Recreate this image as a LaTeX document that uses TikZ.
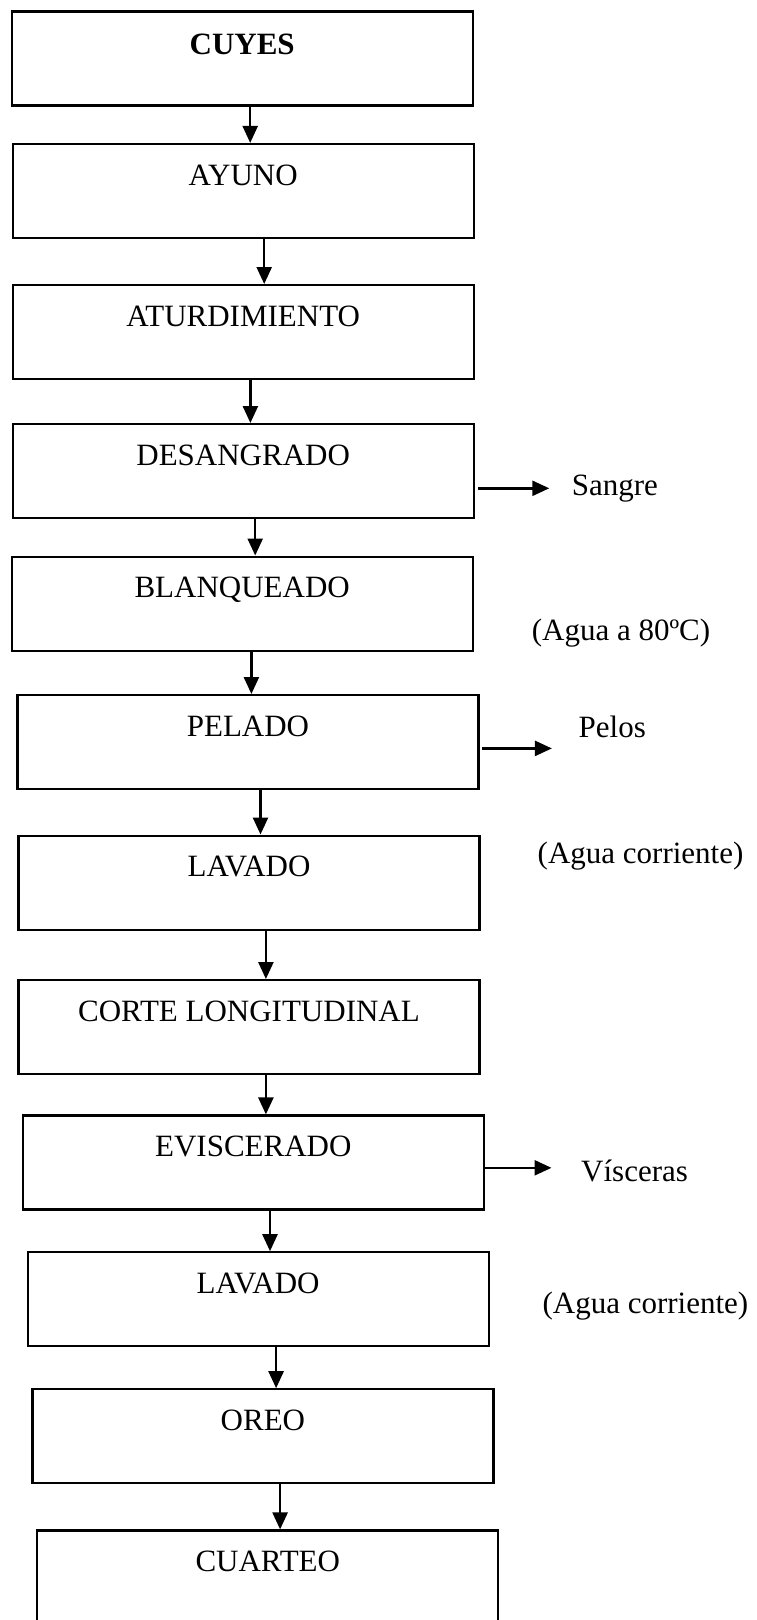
\documentclass[tikz,border=0pt]{standalone}
\usepackage{fontspec}
\setmainfont{Liberation Serif}
\usetikzlibrary{arrows.meta}
\begin{document}
\begin{tikzpicture}[x=1pt,y=-1pt,
  box/.style={draw, line width=2.2pt, rectangle, inner sep=0pt, anchor=north west,
    minimum width=461pt, text height=41pt, text depth=53pt,
    font=\fontsize{31}{31}\selectfont},
  arr/.style={line width=2.5pt, -{Triangle[length=17pt,width=15pt]}},
  side/.style={anchor=base west, inner sep=0pt, font=\fontsize{31}{31}\selectfont}]
\useasboundingbox[fill=white] (0,0) rectangle (756,1620);
\clip (0,0) rectangle (756,1620);

\node[box, text height=43pt, text depth=51pt] (n1) at (10.6,10.3) {\textbf{CUYES}};
\node[box] (n2) at (11.6,142.9) {AYUNO};
\node[box] (n3) at (11.6,284.0) {ATURDIMIENTO};
\node[box] (n4) at (11.6,423.0) {DESANGRADO};
\node[box] (n5) at (10.6,555.5) {BLANQUEADO};
\node[box] (n6) at (16.4,694.0) {PELADO};
\node[box] (n7) at (17.4,834.5) {LAVADO};
\node[box] (n8) at (17.4,979.0) {CORTE LONGITUDINAL};
\node[box] (n9) at (21.7,1114.4) {EVISCERADO};
\node[box] (n10) at (26.5,1251.2) {LAVADO};
\node[box] (n11) at (31.3,1388.2) {OREO};
\node[box] (n12) at (36.2,1529.4) {CUARTEO};

\draw[arr] ([xshift=8.0pt]n1.south) -- ([xshift=8.0pt]n1.south |- n2.north);
\draw[arr] ([xshift=21.0pt]n2.south) -- ([xshift=21.0pt]n2.south |- n3.north);
\draw[arr] ([xshift=7.2pt]n3.south) -- ([xshift=7.2pt]n3.south |- n4.north);
\draw[arr] ([xshift=12.0pt]n4.south) -- ([xshift=12.0pt]n4.south |- n5.north);
\draw[arr] ([xshift=9.2pt]n5.south) -- ([xshift=9.2pt]n5.south |- n6.north);
\draw[arr] ([xshift=12.5pt]n6.south) -- ([xshift=12.5pt]n6.south |- n7.north);
\draw[arr] ([xshift=16.9pt]n7.south) -- ([xshift=16.9pt]n7.south |- n8.north);
\draw[arr] ([xshift=16.9pt]n8.south) -- ([xshift=16.9pt]n8.south |- n9.north);
\draw[arr] ([xshift=16.7pt]n9.south) -- ([xshift=16.7pt]n9.south |- n10.north);
\draw[arr] ([xshift=18.0pt]n10.south) -- ([xshift=18.0pt]n10.south |- n11.north);
\draw[arr] ([xshift=17.2pt]n11.south) -- ([xshift=17.2pt]n11.south |- n12.north);

\node[side] (sangre) at (571.7,495) {Sangre};
\node[side] (agua80) at (531.7,640) {(Agua a 80ºC)};
\node[side] (pelos) at (578.5,737.5) {Pelos};
\node[side] (agua1) at (537.5,863) {(Agua corriente)};
\node[side] (visceras) at (581,1181) {Vísceras};
\node[side] (agua2) at (542.4,1313) {(Agua corriente)};

\draw[arr] ([shift={(3.5pt,-65.3pt)}]n4.north east) -- ([shift={(74.5pt,-65.3pt)}]n4.north east);
\draw[arr] ([shift={(2.4pt,-54.4pt)}]n6.north east) -- ([shift={(72.3pt,-54.4pt)}]n6.north east);
\draw[arr] ([shift={(0.5pt,-53.4pt)}]n9.north east) -- ([shift={(66.6pt,-53.4pt)}]n9.north east);
\end{tikzpicture}
\end{document}
